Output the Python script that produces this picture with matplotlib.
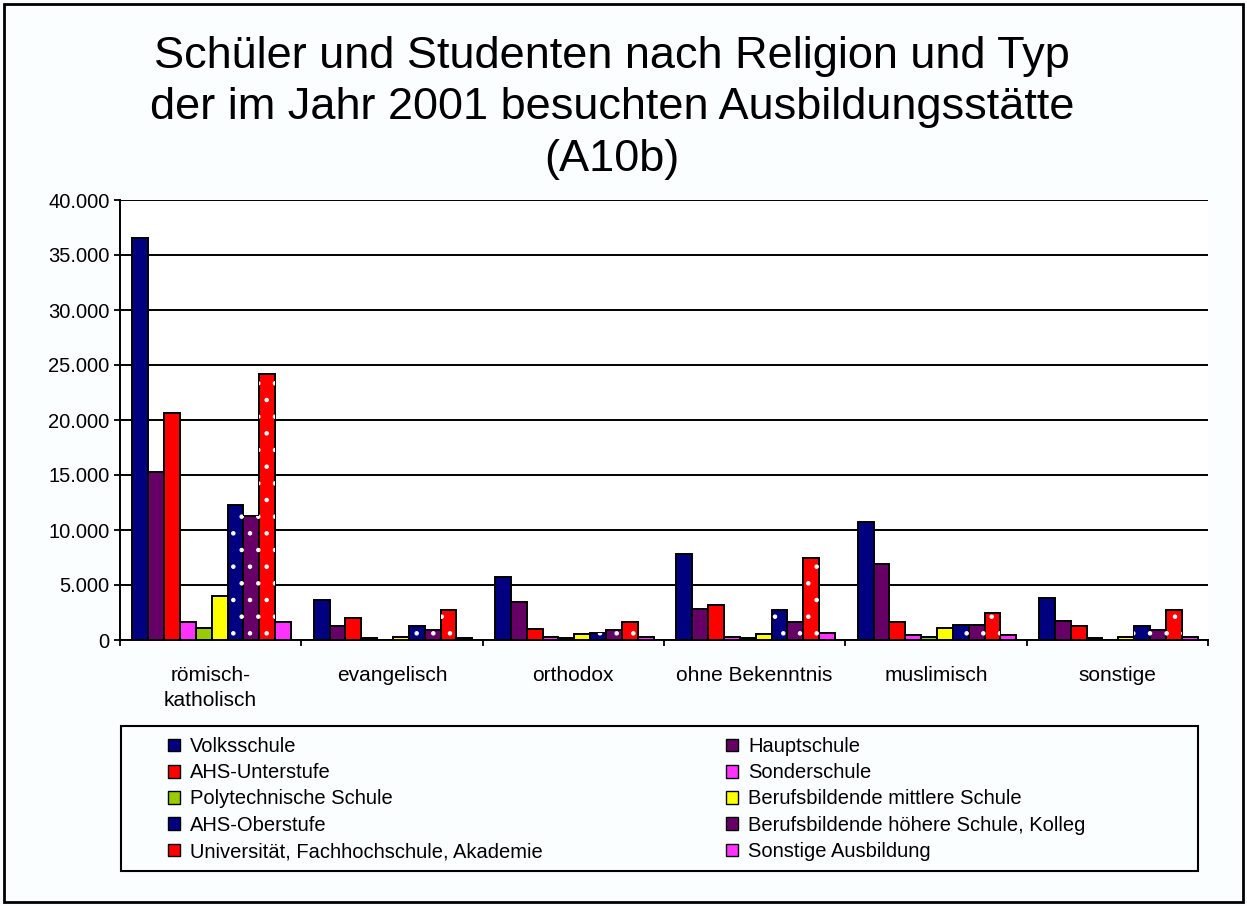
import matplotlib
matplotlib.use("Agg")
import matplotlib.pyplot as plt
import numpy as np
from matplotlib.patches import Rectangle, Patch
from matplotlib.ticker import FuncFormatter, MultipleLocator

plt.rcParams['font.family'] = ['Liberation Sans', 'DejaVu Sans']
plt.rcParams['hatch.linewidth'] = 0.8

title = "Schüler und Studenten nach Religion und Typ\nder im Jahr 2001 besuchten Ausbildungsstätte\n(A10b)"

religions = ["römisch-\nkatholisch", "evangelisch", "orthodox", "ohne Bekenntnis",
             "muslimisch", "sonstige"]

school_types = ["Volksschule", "Hauptschule", "AHS-Unterstufe", "Sonderschule",
                "Polytechnische Schule", "Berufsbildende mittlere Schule",
                "AHS-Oberstufe", "Berufsbildende höhere Schule, Kolleg",
                "Universität, Fachhochschule, Akademie", "Sonstige Ausbildung"]

volksschule = [36500, 3600, 5700, 7800, 10700, 3800]
hauptschule = [15300, 1300, 3500, 2800, 6900, 1750]
ahs_unterstufe = [20600, 2000, 1000, 3200, 1650, 1250]
sonderschule = [1650, 180, 300, 300, 500, 180]
polytechnische = [1100, 30, 150, 180, 270, 30]
bms = [4000, 300, 550, 550, 1050, 300]
ahs_oberstufe = [12300, 1300, 650, 2750, 1400, 1250]
bhs = [11300, 900, 900, 1650, 1400, 900]
universitaet = [24200, 2750, 1650, 7450, 2500, 2700]
sonstige = [1650, 180, 300, 650, 500, 300]

values = [volksschule, hauptschule, ahs_unterstufe, sonderschule, polytechnische,
          bms, ahs_oberstufe, bhs, universitaet, sonstige]
colors = ["#000080", "#660066", "#ff0000", "#ff33ff", "#99cc00",
          "#ffff00", "#000080", "#660066", "#ff0000", "#ff33ff"]
dotted = [False, False, False, False, False, False, True, True, True, False]

W, H = 1247, 906
fig = plt.figure(figsize=(W / 100, H / 100), dpi=100, facecolor="#fbfefe")
ax = fig.add_axes([120 / W, (H - 640) / H, (1208 - 120) / W, 440 / H])
ax.set_facecolor("white")

x = np.arange(len(religions))
bw = 0.0875
handles = []
for i, (vals, col, dot) in enumerate(zip(values, colors, dotted)):
    pos = x - 0.5 + 0.068 + bw * (i + 0.5)
    ax.bar(pos, vals, width=bw, color=col, edgecolor="black", linewidth=1.4, zorder=3)
    if dot:
        ax.bar(pos, vals, width=bw, facecolor="none", edgecolor="white",
               hatch=".", linewidth=0, zorder=4)
    handles.append(Patch(facecolor=col, edgecolor="black", linewidth=1.0))

ax.set_xlim(-0.5, 5.5)
ax.set_ylim(0, 40000)
ax.yaxis.set_major_locator(MultipleLocator(5000))
ax.yaxis.set_major_formatter(FuncFormatter(lambda v, p: f"{int(v):,}".replace(",", ".")))
ax.grid(axis="y", color="black", linewidth=1.4, zorder=0)
ax.set_axisbelow(True)

ax.set_xticks(x)
ax.set_xticklabels(religions, fontsize=15, linespacing=1.44)
ax.set_xticks(np.arange(-0.5, 6, 1), minor=True)
ax.tick_params(axis="x", which="major", length=0, pad=18.5)
ax.tick_params(axis="x", which="minor", length=4, width=1.3, direction="out")
ax.tick_params(axis="y", length=4, width=1.3, direction="out", labelsize=14.5, pad=3.6)

for s in ["top", "right"]:
    ax.spines[s].set_visible(False)
for s in ["left", "bottom"]:
    ax.spines[s].set_linewidth(1.4)

fig.text(612 / W, 1 - 108 / H, title, ha="center", va="center",
         fontsize=32.5, linespacing=1.32)

# legend, filled row-wise as in the original
order = [0, 2, 4, 6, 8, 1, 3, 5, 7, 9]
fig.legend([handles[k] for k in order], [school_types[k] for k in order],
           ncol=2, loc="upper left", bbox_to_anchor=(168 / W, 1 - 737 / H),
           frameon=False, fontsize=14.5, handlelength=0.6, handleheight=0.6,
           handletextpad=0.5, labelspacing=0.36, columnspacing=9.1,
           borderpad=0, borderaxespad=0)
fig.patches.append(Rectangle((121 / W, 1 - 871 / H), (1198 - 121) / W, (871 - 726) / H,
                             transform=fig.transFigure, fill=False,
                             edgecolor="black", linewidth=1.5))
fig.patches.append(Rectangle((4 / W, 4 / H), (1243 - 4) / W, (902 - 4) / H,
                             transform=fig.transFigure, fill=False,
                             edgecolor="black", linewidth=2))

fig.savefig("out.png", dpi=100, facecolor=fig.get_facecolor())
